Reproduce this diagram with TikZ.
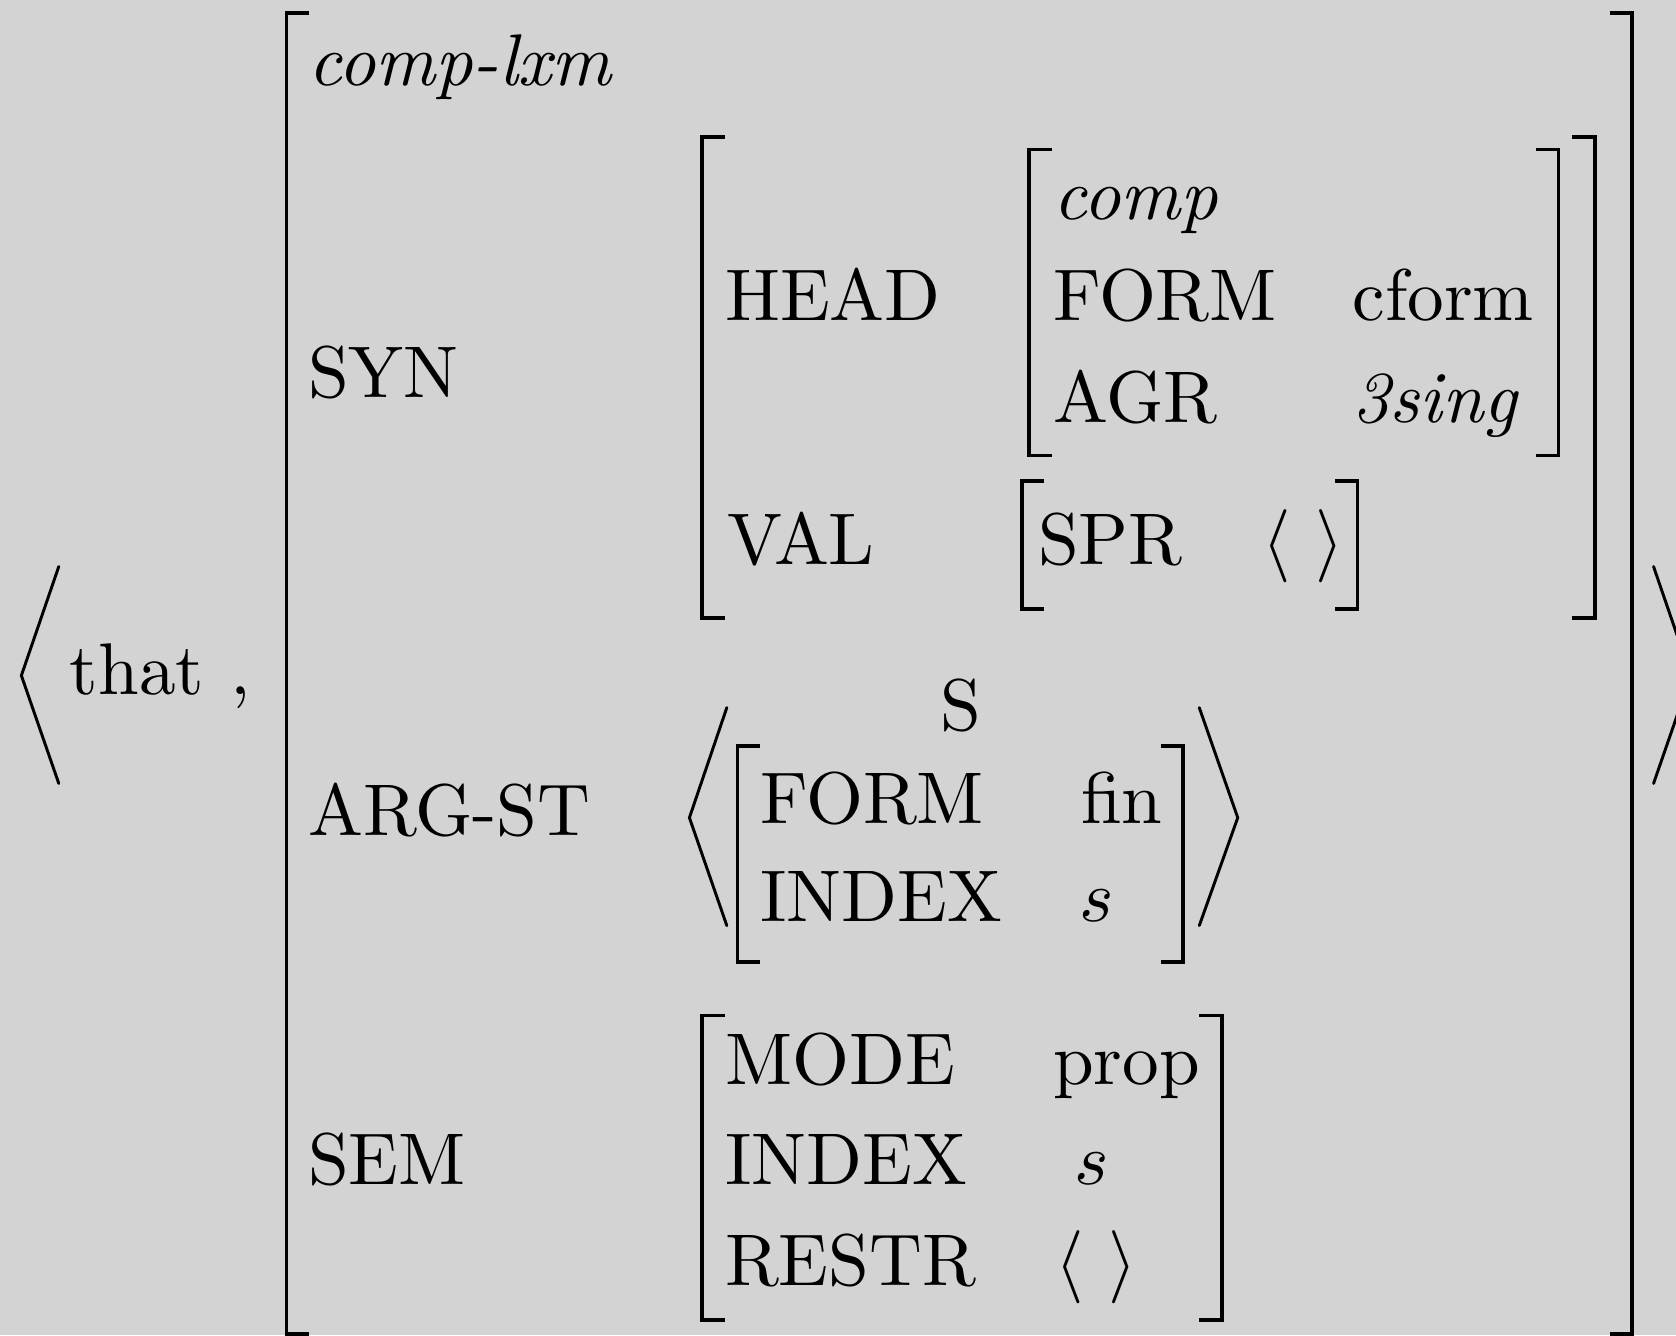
\documentclass[tikz,border=0pt]{standalone}
\definecolor{paper}{RGB}{211,211,211}

\tikzset{
  feat/.style={anchor=base west, inner sep=0pt},
  brack/.style={line width=0.5pt},
  angl/.style={line width=0.4pt, line cap=round, line join=miter},
}
% square brackets of an AVM: x, top, bottom
\newcommand{\openbrack}[3]{\draw[brack] (#1+21,#2) -- (#1,#2) -- (#1,#3) -- (#1+21,#3);}
\newcommand{\closebrack}[3]{\draw[brack] (#1-21,#2) -- (#1,#2) -- (#1,#3) -- (#1-21,#3);}

\begin{document}
\begin{tikzpicture}[x=0.146pt, y=-0.146pt]
  \fill[paper] (0,0) rectangle (1568,1249);
  \useasboundingbox (0,0) rectangle (1568,1249);

  % the word
  \node[feat] (word) at (64,650) {that};
  \node[feat] (comma) at (214,650) {,};
  \draw[angl] (55,530) -- (20,632) -- (55,733);
  \draw[angl] (1547,530) -- (1582,632) -- (1547,733);

  % outer feature structure
  \openbrack{268}{12}{1248}
  \closebrack{1527}{12}{1248}
  \node[feat] (type) at (287,80) {\textit{comp-lxm}};

  % SYN
  \node[feat] (syn) at (287,372) {SYN};
  \openbrack{657}{128}{578}
  \closebrack{1492}{128}{578}
  \node[feat] (head) at (677,300) {HEAD};
  \openbrack{963}{140}{426}
  \closebrack{1458}{140}{426}
  \node[feat] (headtype) at (984,205) {\textit{comp}};
  \node[feat] (form) at (984,300) {FORM};
  \node[feat] (cform) at (1264,300) {cform};
  \node[feat] (agr) at (984,395) {AGR};
  \node[feat] (agrval) at (1264,395) {\textit{3sing}};
  \node[feat] (val) at (679,528) {VAL};
  \openbrack{956}{450}{570}
  \closebrack{1270}{450}{570}
  \node[feat] (spr) at (970,528) {SPR};
  \node[feat] (sprval) at (1180,528) {$\langle\ \rangle$};

  % ARG-ST
  \node[feat] (argst) at (287,782) {ARG-ST};
  \draw[angl] (680,662) -- (645,765) -- (680,866);
  \draw[angl] (1122,662) -- (1158,765) -- (1122,866);
  \node[anchor=base, inner sep=0pt] (cat) at (899,683) {S};
  \openbrack{690}{698}{900}
  \closebrack{1107}{698}{900}
  \node[feat] (argform) at (710,770) {FORM};
  \node[feat] (fin) at (1010,770) {fin};
  \node[feat] (argindex) at (710,862) {INDEX};
  \node[feat] (args) at (1009,862) {$s$};

  % SEM
  \node[feat] (sem) at (287,1108) {SEM};
  \openbrack{657}{950}{1235}
  \closebrack{1143}{950}{1235}
  \node[feat] (mode) at (677,1015) {MODE};
  \node[feat] (prop) at (984,1015) {prop};
  \node[feat] (index) at (677,1108) {INDEX};
  \node[feat] (s) at (1004,1108) {$s$};
  \node[feat] (restr) at (677,1203) {RESTR};
  \node[feat] (restrval) at (986,1203) {$\langle\ \rangle$};
\end{tikzpicture}
\end{document}
